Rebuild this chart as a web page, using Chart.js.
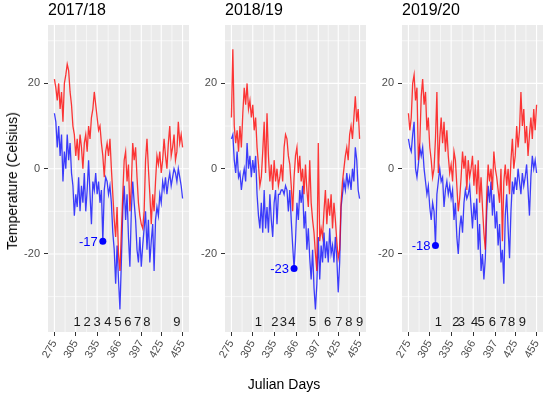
<!DOCTYPE html>
<html>
<head>
<meta charset="utf-8">
<script src="https://cdn.jsdelivr.net/npm/chart.js@4.4.0/dist/chart.umd.min.js"></script>
<style>
  body { margin: 0; background: #fff; }
  #wrap { position: relative; width: 550px; height: 394px; font-family: "Liberation Sans", Arial, sans-serif; color: #000; }
  #wrap canvas { position: absolute; left: 0; top: 0; }
  .ptitle { position: absolute; top: 2px; font-size: 16px; line-height: 16px; }
  #ytitle { position: absolute; left: 12px; top: 181px; font-size: 14px; white-space: nowrap; transform: translate(-50%, -50%) rotate(-90deg); }
  #xtitle { position: absolute; left: 284px; top: 376px; font-size: 14px; white-space: nowrap; transform: translateX(-50%); }
</style>
</head>
<body>
<div id="wrap">
  <canvas id="c0" width="550" height="394"></canvas>
  <canvas id="c1" width="550" height="394"></canvas>
  <canvas id="c2" width="550" height="394"></canvas>
  <div class="ptitle" style="left:48px">2017/18</div>
  <div class="ptitle" style="left:225px">2018/19</div>
  <div class="ptitle" style="left:402px">2019/20</div>
  <div id="ytitle">Temperature (Celsius)</div>
  <div id="xtitle">Julian Days</div>
</div>
<script>
// julian day of each reading (every 2nd day)
const days = [
  275,277,279,281,283,285,287,289,291,293,
  295,297,299,301,303,305,307,309,311,313,
  315,317,319,321,323,325,327,329,331,333,
  335,337,339,341,343,345,347,349,351,353,
  355,357,359,361,363,365,367,369,371,373,
  375,377,379,381,383,385,387,389,391,393,
  395,397,399,401,403,405,407,409,411,413,
  415,417,419,421,423,425,427,429,431,433,
  435,437,439,441,443,445,447,449,451,453,
  455
];

const max1718 = [
  21,19,16,20,14,18,11,20,22,24.5,
  23,18,15,10,8,3,7,2,8,5,
  0,6,8,4,10,7,12,14,18,15,
  12,9,10,6,3,-2,4,6,3,7,
  0,-6,-12,-16,-9,-20,-24,-15,-6,2,
  4,-3,1,-10,-4,6,2,5,-2,-8,
  -11,-13,-14,-10,2,7,0,-6,-13,-6,
  -10,-3,3,1,4,-1,2,7,3,0,
  6,10,3,5,8,2,4,11,6,8,
  5
];
const min1718 = [
  13,11,5,10,3,8,-3,4,0,8,
  2,6,-1,-4,-11,-6,-9,-2,-10,-4,
  -8,-1,-10,-5,2,-6,-13,-3,-5,-1,
  -6,-3,-8,-5,-17,-5,-2,-3,-6,-4,
  -8,-15,-19,-27,-18,-26,-33,-22,-10,-4,
  -12,-6,-16,-23,-10,-3,-8,-12,-19,-22,
  -16,-23,-18,-14,-10,-19,-12,-22,-17,-13,
  -24,-12,-9,-11,-6,-8,-3,-5,-2,-6,
  -3,-1,-4,-2,0,-1,-3,0,-2,-4,
  -7
];

const max1819 = [
  12,28,10,6,9,4,10,5,13,19,
  15,20,14,16,12,15,9,12,5,1,
  -4,-2,4,11,-1,13,3,-3,1,-5,
  2,-3,0,-4,-2,1,-3,5,8,7,
  3,1,-4,-10,-2,3,5,-1,3,-3,
  0,-6,1,-5,-9,2,-8,-12,-15,-20,
  -24,6,-17,-14,-16,-10,-5,-13,-7,-11,
  -6,-14,-8,-12,-17,-21,-19,-8,-3,0,
  3,5,2,8,10,7,12,17,11,14,
  7
];
const min1819 = [
  7,8,2,-1,4,-2,-1,-5,-2,0,
  -3,6,0,3,-2,2,-1,3,-6,-11,
  -14,-8,-15,-5,-14,-9,-15,-6,-12,-16,
  -8,-5,-13,-6,-6,-5,-5,-6,-4,-5,
  -10,-5,-12,-18,-23.4,-17,-8,-12,-5,-8,
  -4,-14,-10,-19,-14,-21,-26,-19,-28,-33,
  -27,-16,-26,-18,-22,-15,-21,-17,-22,-14,
  -20,-18,-22,-16,-21,-29,-22,-9,-6,-3,
  -5,-1,-4,-2,-5,0,-3,5,2,-5,
  -7
];

const max1920 = [
  13,9,12,20,22,16,19,2,6,17,
  21,15,18,9,12,5,2,-2,0,7,
  18,-1,7,12,6,11,4,9,3,-1,
  1,-3,4,2,-4,-10,-7,-2,4,0,
  3,-5,2,-2,0,3,-4,1,-6,2,
  -8,-2,-9,-15,-19,-6,1,-3,0,-5,
  4,0,-2,-5,-8,0,-17,-3,1,-4,
  0,-6,2,7,0,3,10,5,9,18,
  10,14,6,10,3,8,12,7,14,9,
  15
];
const min1920 = [
  7,5,4,8,11,0,-2,1,5,3,
  5,0,-3,-6,-4,-9,-12,-8,-10,-18,
  -6,-3,0,-3,-2,-9,-5,-3,-6,-4,
  -7,-5,-12,-8,-16,-20,-14,-11,-15,-8,
  -5,-7,-6,-4,-9,-14,-8,-12,-7,-19,
  -13,-24,-20,-26,-21,-10,-4,-8,-3,-11,
  -6,-14,-10,-18,-13,-22,-19,-27,-11,-6,
  -14,-21,-10,-3,-6,-2,-5,0,-3,-6,
  -1,-4,-2,1,-5,-11,-2,3,0,2,
  -1
];

const seasons = ['2017/18', '2018/19', '2019/20'];
const maxTemps = [max1718, max1819, max1920];
const minTemps = [min1718, min1819, min1920];

// numbered events (julian day) per season
const eventLabels = ['1','2','3','4','5','6','7','8','9'];
const events1718 = [307,321,335,350,364,378,392,405,447];
const events1819 = [313,336,348,360,389,410,426,440,455];
const events1920 = [317,341.5,349.5,368,377,393,408,420,435];
const eventDays = [events1718, events1819, events1920];
const eventTemp = -36;

// coldest night marked on each season
const lowDays = [343, 363, 313];
const lowTemps = [-17, -23.4, -18];

const xTicks = [275,305,335,366,397,425,455];
const xMinor = [290,320,350.5,381.5,411,440];
const yTicks = [-20,0,20];
const yMinor = [-30,-10,10,30];

const FONT = '"Liberation Sans", Arial, sans-serif';
const plotLeft = [48, 225, 402];
const plotWidth = 141;

const panelPlugin = {
  id: 'panel',
  beforeDatasetsDraw(chart) {
    const { ctx, chartArea: a, scales: { x, y } } = chart;
    ctx.save();
    ctx.fillStyle = '#EBEBEB';
    ctx.fillRect(a.left, a.top, a.right - a.left, a.bottom - a.top);
    ctx.strokeStyle = '#FFFFFF';
    ctx.lineWidth = 0.6;
    ctx.beginPath();
    yMinor.forEach(v => { const p = y.getPixelForValue(v); ctx.moveTo(a.left, p); ctx.lineTo(a.right, p); });
    xMinor.forEach(v => { const p = x.getPixelForValue(v); ctx.moveTo(p, a.top); ctx.lineTo(p, a.bottom); });
    ctx.stroke();
    ctx.lineWidth = 1.1;
    ctx.beginPath();
    yTicks.forEach(v => { const p = y.getPixelForValue(v); ctx.moveTo(a.left, p); ctx.lineTo(a.right, p); });
    xTicks.forEach(v => { const p = x.getPixelForValue(v); ctx.moveTo(p, a.top); ctx.lineTo(p, a.bottom); });
    ctx.stroke();
    ctx.restore();
  },
  afterDatasetsDraw(chart, args, opts) {
    const { ctx, scales: { x, y } } = chart;
    const i = opts.index;
    ctx.save();
    ctx.textAlign = 'center';
    ctx.textBaseline = 'middle';
    ctx.fillStyle = '#1A1A1A';
    ctx.font = '13px ' + FONT;
    eventDays[i].forEach((d, k) => {
      ctx.fillText(eventLabels[k], x.getPixelForValue(d), y.getPixelForValue(eventTemp));
    });
    ctx.textAlign = 'right';
    ctx.fillStyle = '#0000FF';
    ctx.fillText(String(Math.round(lowTemps[i])), x.getPixelForValue(lowDays[i]) - 5, y.getPixelForValue(lowTemps[i]) + 1);
    ctx.restore();
  }
};

function makePanel(i) {
  const pts = arr => days.map((d, k) => ({ x: d, y: arr[k] }));
  new Chart(document.getElementById('c' + i), {
    type: 'line',
    data: {
      datasets: [
        { data: [{ x: lowDays[i], y: lowTemps[i] }], showLine: false, pointRadius: 3.5,
          pointBackgroundColor: '#0000FF', pointBorderWidth: 0 },
        { label: 'max', data: pts(maxTemps[i]), borderColor: 'rgba(255,0,0,0.78)', borderWidth: 1.3, pointRadius: 0, tension: 0 },
        { label: 'min', data: pts(minTemps[i]), borderColor: 'rgba(0,0,255,0.75)', borderWidth: 1.3, pointRadius: 0, tension: 0 }
      ]
    },
    options: {
      responsive: false,
      animation: false,
      devicePixelRatio: 1,
      layout: { padding: { left: plotLeft[i] - 30, right: 550 - plotLeft[i] - plotWidth, top: 25, bottom: 22 } },
      plugins: { legend: { display: false }, tooltip: { enabled: false }, panel: { index: i } },
      scales: {
        x: {
          type: 'linear', min: 266, max: 464,
          afterBuildTicks: s => { s.ticks = xTicks.map(v => ({ value: v })); },
          afterFit: s => { s.height = 40; s.paddingLeft = 0; s.paddingRight = 0; },
          ticks: { autoSkip: false, minRotation: 60, maxRotation: 60, padding: 2, color: '#4D4D4D',
                   font: { size: 11, family: FONT }, callback: v => String(v) },
          grid: { drawOnChartArea: false, drawTicks: true, tickLength: 4, tickColor: '#333333', color: '#333333' },
          border: { display: false }
        },
        y: {
          min: -38.3, max: 33.7,
          afterBuildTicks: s => { s.ticks = yTicks.map(v => ({ value: v })); },
          afterFit: s => { s.width = 30; s.paddingTop = 0; s.paddingBottom = 0; },
          ticks: { padding: 4, color: '#4D4D4D', font: { size: 11, family: FONT }, callback: v => String(v) },
          grid: { drawOnChartArea: false, drawTicks: true, tickLength: 4, tickColor: '#333333', color: '#333333' },
          border: { display: false }
        }
      }
    },
    plugins: [panelPlugin]
  });
}

seasons.forEach((s, i) => makePanel(i));
</script>
</body>
</html>
